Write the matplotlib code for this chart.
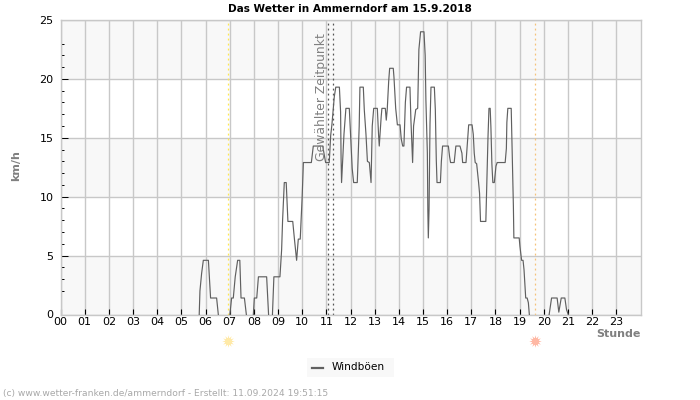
import matplotlib
matplotlib.use('Agg')
import numpy as np
from matplotlib import pyplot as plt

# Trace, nan breaks where it sits at zero and is not drawn
hours = [5.74, 5.77, 5.84, 5.91, 6.12, 6.19, 6.21, 6.46, 6.53, np.nan,
         7.01, 7.08, 7.15, 7.23, 7.33, 7.42, 7.47, 7.61, 7.69, np.nan,
         7.98, 8.02, 8.12, 8.19, 8.53, 8.61, np.nan,
         8.77, 8.83, 9.08, 9.15, 9.19, 9.26, 9.34, 9.41, 9.61, 9.68, 9.77, 9.84, 9.92, 10.0, 10.05, 10.38, 10.46,
         10.85, 10.97, 11.12, 11.18, 11.23, 11.33, 11.39, 11.54, 11.59, 11.61, 11.63, 11.66, 11.73, 11.81, 11.95,
         12.0, 12.07, 12.13, 12.28, 12.31, 12.36, 12.39, 12.53, 12.57, 12.64, 12.70, 12.78, 12.85, 12.90, 12.96,
         13.11, 13.16, 13.19, 13.27, 13.30, 13.44, 13.48, 13.52, 13.58, 13.62, 13.77, 13.80, 13.87, 13.94,
         14.05, 14.10, 14.16, 14.21, 14.27, 14.32, 14.46, 14.50, 14.57, 14.61, 14.70, 14.78, 14.83, 14.90,
         15.04, 15.09, 15.12, 15.18, 15.20, 15.22, 15.25, 15.29, 15.33, 15.47, 15.51, 15.55, 15.58, 15.72, 15.76, 15.81,
         16.05, 16.10, 16.14, 16.29, 16.36, 16.53, 16.61, 16.64, 16.78, 16.83, 16.89,
         17.03, 17.08, 17.12, 17.16, 17.22, 17.30, 17.34, 17.38, 17.60, 17.63, 17.69, 17.73, 17.78, 17.81, 17.85, 17.89, 17.95,
         18.02, 18.07, 18.40, 18.45, 18.47, 18.51, 18.65, 18.68, 18.74, 18.76, 18.98,
         19.01, 19.08, 19.14, 19.18, 19.22, 19.25, 19.31, 19.36, 19.40, np.nan,
         20.22, 20.32, 20.55, 20.62, 20.72, 20.87, 20.94, 21.01]
gusts = [0.0, 2.0, 3.5, 4.6, 4.6, 2.0, 1.4, 1.4, 0.0, np.nan,
         0.0, 1.4, 1.4, 3.2, 4.6, 4.6, 1.4, 1.4, 0.0, np.nan,
         0.0, 1.4, 1.4, 3.2, 3.2, 0.0, np.nan,
         0.0, 3.2, 3.2, 5.5, 8.0, 11.2, 11.2, 7.9, 7.9, 6.4, 4.6, 6.4, 6.4, 10.0, 12.9, 12.9, 14.3,
         14.3, 12.9, 12.9, 15.2, 16.1, 18.5, 19.3, 19.3, 17.2, 13.3, 11.2, 12.4, 15.3, 17.5, 17.5,
         15.3, 12.4, 11.2, 11.2, 13.1, 16.0, 19.3, 19.3, 17.4, 15.3, 13.0, 12.9, 11.2, 16.0, 17.5,
         17.5, 15.3, 14.3, 16.8, 17.5, 17.5, 16.5, 17.4, 19.8, 20.9, 20.9, 20.1, 17.5, 16.1,
         16.1, 14.9, 14.3, 14.3, 18.0, 19.3, 19.3, 16.5, 12.9, 16.0, 17.4, 17.5, 22.5, 24.0,
         24.0, 22.0, 18.2, 13.7, 8.9, 6.5, 8.9, 16.2, 19.3, 19.3, 17.4, 13.1, 11.2, 11.2, 13.0, 14.3,
         14.3, 13.4, 12.9, 12.9, 14.3, 14.3, 13.7, 12.9, 12.9, 14.3, 16.1,
         16.1, 15.3, 13.7, 12.9, 12.8, 11.2, 10.3, 7.9, 7.9, 10.3, 15.1, 17.5, 17.5, 15.9, 12.8, 11.2, 11.2,
         12.6, 12.9, 12.9, 14.1, 16.3, 17.5, 17.5, 14.8, 9.2, 6.5, 6.5,
         5.8, 4.6, 4.6, 3.8, 2.4, 1.4, 1.4, 1.0, 0.0, np.nan,
         0.0, 1.4, 1.4, 0.2, 1.4, 1.4, 0.4, 0.0]

hour_labels = ['%02d' % h for h in range(24)]
sunrise = 6.93
sunset = 19.63
selected = [11.07, 11.27]

fig = plt.figure(figsize=(7, 4), dpi=100)
ax = fig.add_axes([60.5 / 700, 1 - 314.5 / 400, (640.5 - 60.5) / 700, (314.5 - 20) / 400])

# Alternating bands
for low in [0, 10, 20]:
    ax.axhspan(low, low + 5, color='#f8f8f8', lw=0, zorder=0)

ax.set_xlim(0, 24)
ax.set_ylim(0, 25)
ax.set_xticks(range(24))
ax.set_xticklabels(hour_labels, fontsize=8)
ax.set_yticks(range(0, 26, 5))
ax.set_yticks(range(0, 26), minor=True)
ax.tick_params(axis='x', direction='in', length=4, width=0.8, color='black', pad=2)
ax.tick_params(axis='y', which='major', direction='in', length=5, width=0.7, color='black', pad=5, labelsize=8)
ax.tick_params(axis='y', which='minor', direction='in', length=2.5, width=0.7, color='black')
ax.grid(True, which='major', color='#c8c8c8', lw=1)
ax.set_axisbelow(True)

# No tick marks at the two ends of the y axis
for tick in [ax.yaxis.get_major_ticks()[0], ax.yaxis.get_major_ticks()[-1]]:
    tick.tick1line.set_visible(False)
for tick in [ax.yaxis.get_minor_ticks()[0], ax.yaxis.get_minor_ticks()[-1]]:
    tick.tick1line.set_visible(False)

for s in ax.spines.values():
    s.set_color('#c8c8c8')
    s.set_linewidth(1)

ax.axvline(sunrise, color='#ffe84a', lw=0.9, ls=(0, (1.5, 2.5)), zorder=2)
ax.axvline(sunset, color='#f5c27a', lw=0.9, ls=(0, (1.5, 2.5)), zorder=2)
for t in selected:
    ax.axvline(t, color='#555555', lw=0.9, ls=(0, (1.5, 2.5)), zorder=2)

ax.plot(hours, gusts, color='#606060', lw=0.85, zorder=3, label='Windböen')

# Sun markers below the axis
for t, col in [(sunrise, '#ffeaa8'), (sunset, '#ffb8a4')]:
    ax.scatter([t], [-2.25], marker=(12, 1, 0), s=80, color=col, lw=0, clip_on=False, zorder=4)
    ax.scatter([t], [-2.25], marker='o', s=24, color=col, lw=0, clip_on=False, zorder=5)

fig.text(349.5 / 700, 1 - 9 / 400, 'Das Wetter in Ammerndorf am 15.9.2018', ha='center', va='center',
         fontsize=7.6, fontweight='bold')
fig.text(16 / 700, 1 - 166 / 400, 'km/h', rotation=90, ha='center', va='center', fontsize=8,
         fontweight='bold', color='#808080')
fig.text(618 / 700, 1 - 334 / 400, 'Stunde', ha='center', va='center', fontsize=8,
         fontweight='bold', color='#808080')
fig.text(322 / 700, 1 - 97 / 400, 'Gewählter Zeitpunkt', rotation=90, ha='center', va='center',
         fontsize=8.9, color='#808080')
fig.text(3 / 700, 1 - 393.5 / 400, '(c) www.wetter-franken.de/ammerndorf - Erstellt: 11.09.2024 19:51:15',
         ha='left', va='center', fontsize=6.6, color='#a8a8a8')

# Legend box
fig.patches.append(plt.Rectangle((307 / 700, 1 - 376.5 / 400), 87 / 700, 19 / 400, transform=fig.transFigure,
                                 facecolor='#f8f8f8', edgecolor='none'))
fig.add_artist(plt.Line2D([312 / 700, 323 / 700], [1 - 367.5 / 400] * 2, color='#606060', lw=1.6))
fig.text(332 / 700, 1 - 366.5 / 400, 'Windböen', ha='left', va='center', fontsize=7.6)

fig.savefig('out.png', dpi=100)
